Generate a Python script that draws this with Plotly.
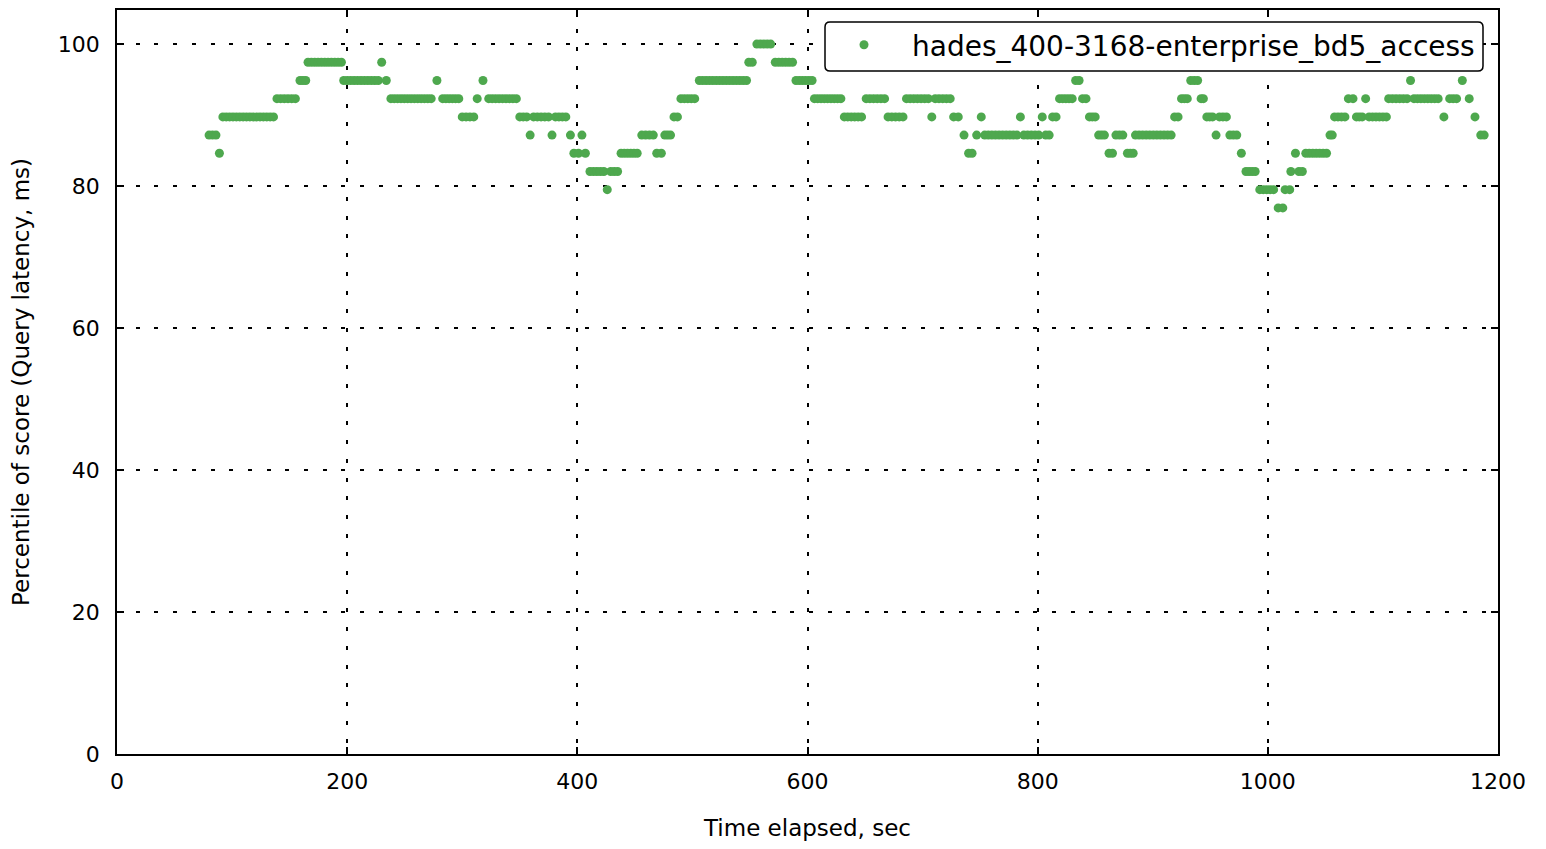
import numpy as np
import plotly.graph_objects as go

# Percentile levels (k/39 * 100)
P100, P97, P95, P92, P90, P87, P85, P82, P79, P77 = 100.0, 97.44, 94.87, 92.31, 89.74, 87.18, 84.62, 82.05, 79.49, 76.92

# Runs of constant percentile: start time, end time (sec), level
run_start = [80, 89, 92, 139, 159, 166, 197, 230, 234, 238, 278, 283, 300, 313, 318, 323,
             350, 359, 362, 378, 381, 394, 397, 404, 407, 411, 426, 429, 438, 456, 469, 476,
             484, 490, 506, 549, 556, 572, 590, 606, 632, 651, 670, 686, 708, 711, 727, 736,
             740, 747, 751, 754, 785, 788, 804, 807, 813, 819, 833, 839, 845, 853, 862, 868,
             878, 885, 919, 925, 933, 942, 947, 955, 958, 967, 977, 981, 993, 1009, 1015, 1020,
             1024, 1027, 1033, 1054, 1058, 1070, 1077, 1085, 1088, 1105, 1124, 1127, 1153, 1158,
             1169, 1175, 1180, 1185]
run_end = [86, 89, 136, 155, 164, 195, 227, 230, 234, 273, 278, 297, 310, 313, 318, 347,
           356, 359, 375, 378, 390, 394, 401, 404, 408, 423, 426, 435, 452, 466, 473, 481,
           487, 502, 547, 552, 568, 587, 604, 629, 647, 667, 683, 705, 708, 724, 731, 736,
           743, 747, 751, 782, 785, 801, 804, 810, 816, 830, 836, 842, 850, 858, 865, 874,
           883, 916, 922, 930, 939, 944, 952, 955, 964, 973, 977, 989, 1005, 1013, 1019, 1021,
           1024, 1030, 1051, 1056, 1067, 1074, 1082, 1085, 1103, 1121, 1124, 1148, 1153, 1164,
           1169, 1175, 1181, 1188]
run_level = [P87, P85, P90, P92, P95, P97, P95, P97, P95, P92, P95, P92, P90, P92, P95, P92,
             P90, P87, P90, P87, P90, P87, P85, P87, P85, P82, P79, P82, P85, P87, P85, P87,
             P90, P92, P95, P97, P100, P97, P95, P92, P90, P92, P90, P92, P90, P92, P90, P87,
             P85, P87, P90, P87, P90, P87, P90, P87, P90, P92, P95, P92, P90, P87, P85, P87,
             P85, P87, P90, P92, P95, P92, P90, P87, P90, P87, P85, P82, P79, P77, P79, P82,
             P85, P82, P85, P87, P90, P92, P90, P92, P90, P92, P95, P92, P90, P92,
             P95, P92, P90, P87]

SAMPLE_STEP = 3.0  # seconds between samples

x_ticks = [0, 200, 400, 600, 800, 1000, 1200]
y_ticks = [0, 20, 40, 60, 80, 100]
series_name = "hades_400-3168-enterprise_bd5_access"

t_vals, p_vals = [], []
for s, e, lv in zip(run_start, run_end, run_level):
    n = max(1, int(round((e - s) / SAMPLE_STEP)) + 1)
    ts = np.linspace(s, e, n) if n > 1 else np.array([s])
    t_vals.extend(ts.tolist())
    p_vals.extend([lv] * len(ts))

GREEN = "#4ea84e"
FONT = "DejaVu Sans"

fig = go.Figure()
fig.add_trace(go.Scatter(
    x=t_vals, y=p_vals, mode="markers", name=series_name,
    marker=dict(color=GREEN, size=9, line=dict(width=0)),
))

# page has an 8px body margin; figure sized to fit the 1546x849 window
OFF = 8
W, H = 1530, 833
# desired plot box in page pixels: x 117..1498, y 10..754
PL, PR, PT, PB = 117, 1498, 10, 754
ML, MT = PL - OFF, PT - OFF
MR, MB = W - (PR - OFF), H - (PB - OFF)
pw, ph = PR - PL, PB - PT

def px2paper(px, py):
    # page pixel -> paper fraction
    return (px - PL) / pw, (PB - py) / ph

# rounded legend frame (page pixels)
x0, y0 = 825, 22
x1, y1 = 1483, 71
r = 5
rx, ry = r / pw, r / ph
ax0, ay0 = px2paper(x0, y0)
ax1, ay1 = px2paper(x1, y1)
path = (f"M {ax0+rx},{ay0} L {ax1-rx},{ay0} Q {ax1},{ay0} {ax1},{ay0-ry} "
        f"L {ax1},{ay1+ry} Q {ax1},{ay1} {ax1-rx},{ay1} "
        f"L {ax0+rx},{ay1} Q {ax0},{ay1} {ax0},{ay1+ry} "
        f"L {ax0},{ay0-ry} Q {ax0},{ay0} {ax0+rx},{ay0} Z")
fig.add_shape(type="path", path=path, xref="paper", yref="paper",
              line=dict(color="black", width=1.5), fillcolor="white", layer="above")

axis_common = dict(
    showline=True, linecolor="black", linewidth=1.5, mirror="allticks",
    ticks="inside", ticklen=7, tickwidth=1.5, tickcolor="black",
    showgrid=True, gridcolor="black", gridwidth=1.5, griddash="4px,14.7px",
    zeroline=False, tickfont=dict(family=FONT, size=22, color="black"),
)

fig.update_xaxes(range=[0, 1200], tickvals=x_ticks, ticklabelstandoff=7,
                 title=dict(text="Time elapsed, sec", font=dict(family=FONT, size=23, color="black"), standoff=29),
                 **axis_common)
fig.update_yaxes(range=[0, 104.8], tickvals=y_ticks, ticklabelstandoff=11,
                 title=dict(text="Percentile of score (Query latency, ms)", font=dict(family=FONT, size=23, color="black"), standoff=24),
                 **axis_common)

lx, ly = px2paper(816, 20)
fig.update_layout(
    width=W, height=H,
    margin=dict(l=ML, r=MR, t=MT, b=MB, autoexpand=False),
    paper_bgcolor="white", plot_bgcolor="white",
    showlegend=True,
    legend=dict(x=lx, y=ly, xanchor="left", yanchor="top", bgcolor="rgba(0,0,0,0)",
                borderwidth=0, font=dict(family=FONT, size=28, color="black"),
                itemwidth=86),
    font=dict(family=FONT, color="black"),
)

fig.write_html("out.html")
